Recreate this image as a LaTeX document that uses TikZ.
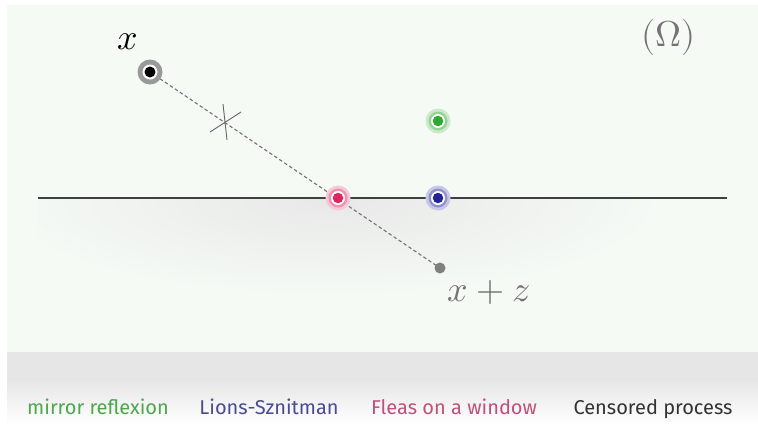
\documentclass[tikz,border=0pt]{standalone}
\usepackage{fontspec}
\setmainfont{Fira Sans}
\usepackage{unicode-math}
\setmathfont{Latin Modern Math}
\begin{document}
\begin{tikzpicture}[x=1pt,y=-1pt,
  halo/.style={circle,inner sep=0pt,minimum size=#1},
  mth/.style={font=\fontsize{36}{40}\selectfont},
  lbl/.style={font=\fontsize{20}{23}\selectfont,anchor=base}]
\definecolor{panel}{HTML}{F5FAF5}
\definecolor{band}{HTML}{E6E6E6}
\definecolor{mgreen}{HTML}{2EAA2E}
\definecolor{mblue}{HTML}{24249A}
\definecolor{mred}{HTML}{E0245E}
\definecolor{tgreen}{HTML}{4CA84C}
\definecolor{tblue}{HTML}{4A4A98}
\definecolor{tred}{HTML}{C4507A}
\definecolor{tblack}{HTML}{333333}
\useasboundingbox (0,0) rectangle (758,424);
\fill[white] (0,0) rectangle (758,424);
\fill[panel] (7,5) rectangle (758,352);
% band
\fill[band] (7,352) rectangle (758,380);
\shade[top color=band,bottom color=white] (7,380) rectangle (758,424);
% shadow under the line
\begin{scope}
\clip (38,198) rectangle (727,320);
\shade[inner color=black!9,outer color=panel] (330,200) ellipse (330 and 95);
\end{scope}
% the wall
\draw[line width=1.3pt,black!75] (38,198) coordinate (wl) -- (727,198) coordinate (wr);
% points
\coordinate (x) at (150,72);
\coordinate (xz) at (440,268);
\coordinate (red) at (338,198);
\coordinate (blue) at (438,198);
\coordinate (green) at (438,121);
\draw[black!55,line width=1.1pt,dash pattern=on 3.5pt off 2.5pt] (x) -- (xz);
% cross
\coordinate (c1) at (223,104); \coordinate (c2) at (227,140);
\coordinate (c3) at (210,132); \coordinate (c4) at (241,112);
\draw[black!60,line width=0.9pt] (c1) -- (c2) (c3) -- (c4);
% markers
\node[halo=25pt,fill=black!40] (xo) at (x) {};
\node[halo=15pt,fill=white] at (x) {};
\node[halo=11pt,fill=black] at (x) {};
\foreach \p/\c in {green/mgreen,blue/mblue,red/mred}{
  \node[halo=25pt,fill=\c!25] at (\p) {};
  \node[halo=19pt,fill=\c!50] at (\p) {};
  \node[halo=14pt,fill=white] at (\p) {};
  \node[halo=10.5pt,fill=\c] at (\p) {};
}
\node[halo=11pt,fill=black!50] (xzd) at (xz) {};
% labels
\node[mth] (xl) at (128,42) {$x$};
\node[mth,text=black!55] (xzl) at (489,292) {$x+z$};
\node[mth,text=black!55] (om) at (668,37) {$(\Omega)$};
\node[lbl,text=tgreen] (l1) at (98,414) {mirror reflexion};
\node[lbl,text=tblue] (l2) at (269,414) {Lions-Sznitman};
\node[lbl,text=tred] (l3) at (454,414) {Fleas on a window};
\node[lbl,text=tblack] (l4) at (653,414) {Censored process};
\end{tikzpicture}
\end{document}
